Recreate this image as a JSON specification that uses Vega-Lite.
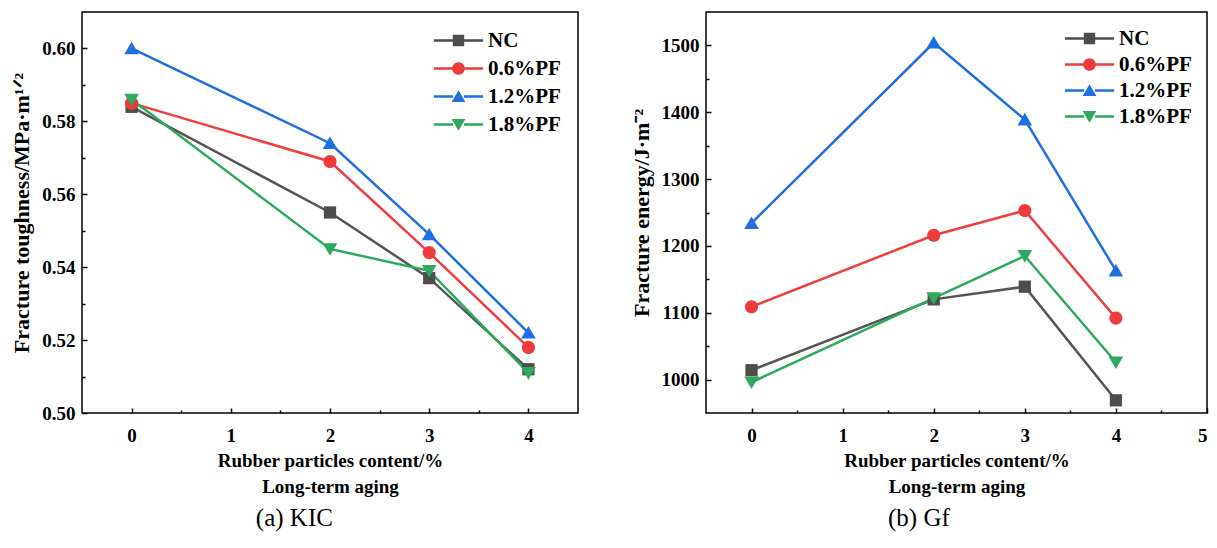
{
  "$schema": "https://vega.github.io/schema/vega-lite/v6.json",
  "padding": {"left": 10, "top": 11, "right": 8, "bottom": 4},
  "spacing": 50,
  "datasets": {
    "kic": [
      {"content": 0, "series": "NC", "value": 0.584},
      {"content": 2, "series": "NC", "value": 0.555},
      {"content": 3, "series": "NC", "value": 0.537},
      {"content": 4, "series": "NC", "value": 0.512},
      {"content": 0, "series": "0.6%PF", "value": 0.585},
      {"content": 2, "series": "0.6%PF", "value": 0.569},
      {"content": 3, "series": "0.6%PF", "value": 0.544},
      {"content": 4, "series": "0.6%PF", "value": 0.518},
      {"content": 0, "series": "1.2%PF", "value": 0.600},
      {"content": 2, "series": "1.2%PF", "value": 0.574},
      {"content": 3, "series": "1.2%PF", "value": 0.549},
      {"content": 4, "series": "1.2%PF", "value": 0.522},
      {"content": 0, "series": "1.8%PF", "value": 0.586},
      {"content": 2, "series": "1.8%PF", "value": 0.545},
      {"content": 3, "series": "1.8%PF", "value": 0.539},
      {"content": 4, "series": "1.8%PF", "value": 0.511}
    ],
    "gf": [
      {"content": 0, "series": "NC", "value": 1014},
      {"content": 2, "series": "NC", "value": 1120},
      {"content": 3, "series": "NC", "value": 1139},
      {"content": 4, "series": "NC", "value": 969},
      {"content": 0, "series": "0.6%PF", "value": 1109},
      {"content": 2, "series": "0.6%PF", "value": 1216},
      {"content": 3, "series": "0.6%PF", "value": 1253},
      {"content": 4, "series": "0.6%PF", "value": 1092},
      {"content": 0, "series": "1.2%PF", "value": 1234},
      {"content": 2, "series": "1.2%PF", "value": 1504},
      {"content": 3, "series": "1.2%PF", "value": 1389},
      {"content": 4, "series": "1.2%PF", "value": 1163},
      {"content": 0, "series": "1.8%PF", "value": 996},
      {"content": 2, "series": "1.8%PF", "value": 1122},
      {"content": 3, "series": "1.8%PF", "value": 1185},
      {"content": 4, "series": "1.8%PF", "value": 1026}
    ]
  },
  "config": {
    "font": "Liberation Serif",
    "view": {
      "stroke": "#000000",
      "strokeWidth": 1.5,
      "fill": {
        "gradient": "linear", "x1": 0, "y1": 0, "x2": 0, "y2": 1,
        "stops": [
          {"offset": 0, "color": "#d7e8f2"},
          {"offset": 1, "color": "#e9ddee"}
        ]
      }
    },
    "axis": {
      "grid": false,
      "domain": false,
      "tickColor": "#000000",
      "tickWidth": 1.5,
      "labelFont": "Liberation Serif",
      "labelFontSize": 19,
      "labelFontWeight": "bold",
      "labelColor": "#000000",
      "titleFont": "Liberation Serif",
      "titleFontSize": 19,
      "titleFontWeight": "bold",
      "titleColor": "#000000"
    },
    "legend": {
      "orient": "none",
      "title": null,
      "padding": 0,
      "symbolSize": 144,
      "symbolStrokeWidth": 0,
      "labelOffset": 19,
      "rowPadding": 6,
      "labelFont": "Liberation Serif",
      "labelFontSize": 21,
      "labelFontWeight": "bold",
      "labelColor": "#000000"
    },
    "title": {
      "orient": "bottom",
      "frame": "bounds",
      "font": "Liberation Serif",
      "fontSize": 25,
      "fontWeight": "normal",
      "color": "#000000",
      "offset": 10
    }
  },
  "resolve": {
    "scale": {"color": "independent", "shape": "independent"},
    "legend": {"color": "independent", "shape": "independent"}
  },
  "hconcat": [
    {
      "width": 496,
      "height": 401,
      "data": {"name": "kic"},
      "title": {"text": "(a) KIC"},
      "resolve": {"axis": {"x": "independent", "y": "independent"}, "scale": {"shape": "independent", "color": "independent"}},
      "layer": [
        {
          "mark": {"type": "line", "strokeWidth": 2.5},
          "encoding": {
            "x": {
              "field": "content", "type": "quantitative",
              "scale": {"domain": [-0.5, 4.5], "nice": false, "zero": false},
              "axis": {
                "values": [0, 1, 2, 3, 4], "tickSize": -5, "labelPadding": 18,
                "title": ["Rubber particles content/%", "Long-term aging"],
                "titleLineHeight": 26, "titlePadding": 6
              }
            },
            "y": {
              "field": "value", "type": "quantitative",
              "scale": {"domain": [0.5, 0.61], "nice": false, "zero": false},
              "axis": {
                "values": [0.5, 0.52, 0.54, 0.56, 0.58, 0.6], "format": ".2f",
                "tickSize": -5, "labelPadding": 12,
                "title": "Fracture toughness/MPa·m¹ᐟ²", "titleFontSize": 22, "titlePadding": 8
              }
            },
            "color": {
              "field": "series", "type": "nominal",
              "scale": {"domain": ["NC", "0.6%PF", "1.2%PF", "1.8%PF"], "range": ["#555555", "#ee4040", "#1f6fe0", "#2eaa5e"]},
              "legend": null
            }
          }
        },
        {
          "mark": {"type": "point", "filled": true, "opacity": 1, "size": 150},
          "encoding": {
            "x": {
              "field": "content", "type": "quantitative",
              "scale": {"domain": [-0.5, 4.5], "nice": false, "zero": false},
              "axis": {"orient": "bottom", "values": [0.5, 1.5, 2.5, 3.5], "tickSize": -3, "labels": false, "title": null}
            },
            "y": {
              "field": "value", "type": "quantitative",
              "scale": {"domain": [0.5, 0.61], "nice": false, "zero": false},
              "axis": {"orient": "left", "values": [0.51, 0.53, 0.55, 0.57, 0.59], "tickSize": -3, "labels": false, "title": null}
            },
            "color": {
              "field": "series", "type": "nominal",
              "scale": {"domain": ["NC", "0.6%PF", "1.2%PF", "1.8%PF"], "range": ["#4d4d4d", "#ee3b3b", "#1f6fe0", "#2eaa5e"]},
              "legend": null
            },
            "shape": {
              "field": "series", "type": "nominal",
              "scale": {"domain": ["NC", "0.6%PF", "1.2%PF", "1.8%PF"], "range": ["M-1,-1H1V1H-1Z", "M-1.07,0A1.07,1.07 0 1,1 1.07,0A1.07,1.07 0 1,1 -1.07,0Z", "M0,-1.1L1.2,0.95L-1.2,0.95Z", "M0,1.1L1.2,-0.95L-1.2,-0.95Z"]},
              "legend": null
            }
          }
        },
        {
          "transform": [{"filter": "false"}],
          "mark": {"type": "point", "filled": true, "opacity": 1, "size": 144},
          "encoding": {
            "color": {
              "field": "series", "type": "nominal",
              "scale": {"domain": ["NC", "0.6%PF", "1.2%PF", "1.8%PF"], "range": ["#4d4d4d", "#ee3b3b", "#1f6fe0", "#2eaa5e"]},
              "legend": {"legendX": 366, "legendY": 18}
            },
            "shape": {
              "field": "series", "type": "nominal",
              "scale": {"domain": ["NC", "0.6%PF", "1.2%PF", "1.8%PF"], "range": [
                "M-4.1,-0.22H-0.9V0.22H-4.1Z M0.9,-0.22H4.1V0.22H0.9Z M-0.95,-0.95H0.95V0.95H-0.95Z",
                "M-4.1,-0.22H-0.9V0.22H-4.1Z M0.9,-0.22H4.1V0.22H0.9Z M-1.05,0A1.05,1.05 0 1,1 1.05,0A1.05,1.05 0 1,1 -1.05,0Z",
                "M-4.1,-0.22H-0.9V0.22H-4.1Z M0.9,-0.22H4.1V0.22H0.9Z M0,-1.05L1.15,0.9L-1.15,0.9Z",
                "M-4.1,-0.22H-0.9V0.22H-4.1Z M0.9,-0.22H4.1V0.22H0.9Z M0,1.05L1.15,-0.9L-1.15,-0.9Z"
              ]},
              "legend": {"legendX": 366, "legendY": 18}
            }
          }
        }
      ]
    },
    {
      "width": 501,
      "height": 401,
      "data": {"name": "gf"},
      "title": {"text": "(b) Gf"},
      "resolve": {"axis": {"x": "independent", "y": "independent"}, "scale": {"shape": "independent", "color": "independent"}},
      "layer": [
        {
          "mark": {"type": "line", "strokeWidth": 2.5},
          "encoding": {
            "x": {
              "field": "content", "type": "quantitative",
              "scale": {"domain": [-0.5, 5], "nice": false, "zero": false},
              "axis": {
                "values": [0, 1, 2, 3, 4, 5], "tickSize": -5, "labelPadding": 18,
                "title": ["Rubber particles content/%", "Long-term aging"],
                "titleLineHeight": 26, "titlePadding": 6
              }
            },
            "y": {
              "field": "value", "type": "quantitative",
              "scale": {"domain": [950, 1550], "nice": false, "zero": false},
              "axis": {
                "values": [1000, 1100, 1200, 1300, 1400, 1500], "format": "d",
                "tickSize": -5, "labelPadding": 12,
                "title": "Fracture energy/J·m⁻²", "titleFontSize": 22, "titlePadding": 8
              }
            },
            "color": {
              "field": "series", "type": "nominal",
              "scale": {"domain": ["NC", "0.6%PF", "1.2%PF", "1.8%PF"], "range": ["#555555", "#ee4040", "#1f6fe0", "#2eaa5e"]},
              "legend": null
            }
          }
        },
        {
          "mark": {"type": "point", "filled": true, "opacity": 1, "size": 150},
          "encoding": {
            "x": {
              "field": "content", "type": "quantitative",
              "scale": {"domain": [-0.5, 5], "nice": false, "zero": false},
              "axis": {"orient": "bottom", "values": [0.5, 1.5, 2.5, 3.5, 4.5], "tickSize": -3, "labels": false, "title": null}
            },
            "y": {
              "field": "value", "type": "quantitative",
              "scale": {"domain": [950, 1550], "nice": false, "zero": false},
              "axis": {"orient": "left", "values": [1050, 1150, 1250, 1350, 1450], "tickSize": -3, "labels": false, "title": null}
            },
            "color": {
              "field": "series", "type": "nominal",
              "scale": {"domain": ["NC", "0.6%PF", "1.2%PF", "1.8%PF"], "range": ["#4d4d4d", "#ee3b3b", "#1f6fe0", "#2eaa5e"]},
              "legend": null
            },
            "shape": {
              "field": "series", "type": "nominal",
              "scale": {"domain": ["NC", "0.6%PF", "1.2%PF", "1.8%PF"], "range": ["M-1,-1H1V1H-1Z", "M-1.07,0A1.07,1.07 0 1,1 1.07,0A1.07,1.07 0 1,1 -1.07,0Z", "M0,-1.1L1.2,0.95L-1.2,0.95Z", "M0,1.1L1.2,-0.95L-1.2,-0.95Z"]},
              "legend": null
            }
          }
        },
        {
          "transform": [{"filter": "false"}],
          "mark": {"type": "point", "filled": true, "opacity": 1, "size": 144},
          "encoding": {
            "color": {
              "field": "series", "type": "nominal",
              "scale": {"domain": ["NC", "0.6%PF", "1.2%PF", "1.8%PF"], "range": ["#4d4d4d", "#ee3b3b", "#1f6fe0", "#2eaa5e"]},
              "legend": {"legendX": 373, "legendY": 16, "rowPadding": 4}
            },
            "shape": {
              "field": "series", "type": "nominal",
              "scale": {"domain": ["NC", "0.6%PF", "1.2%PF", "1.8%PF"], "range": [
                "M-4.1,-0.22H-0.9V0.22H-4.1Z M0.9,-0.22H4.1V0.22H0.9Z M-0.95,-0.95H0.95V0.95H-0.95Z",
                "M-4.1,-0.22H-0.9V0.22H-4.1Z M0.9,-0.22H4.1V0.22H0.9Z M-1.05,0A1.05,1.05 0 1,1 1.05,0A1.05,1.05 0 1,1 -1.05,0Z",
                "M-4.1,-0.22H-0.9V0.22H-4.1Z M0.9,-0.22H4.1V0.22H0.9Z M0,-1.05L1.15,0.9L-1.15,0.9Z",
                "M-4.1,-0.22H-0.9V0.22H-4.1Z M0.9,-0.22H4.1V0.22H0.9Z M0,1.05L1.15,-0.9L-1.15,-0.9Z"
              ]},
              "legend": {"legendX": 373, "legendY": 16, "rowPadding": 4}
            }
          }
        }
      ]
    }
  ]
}
